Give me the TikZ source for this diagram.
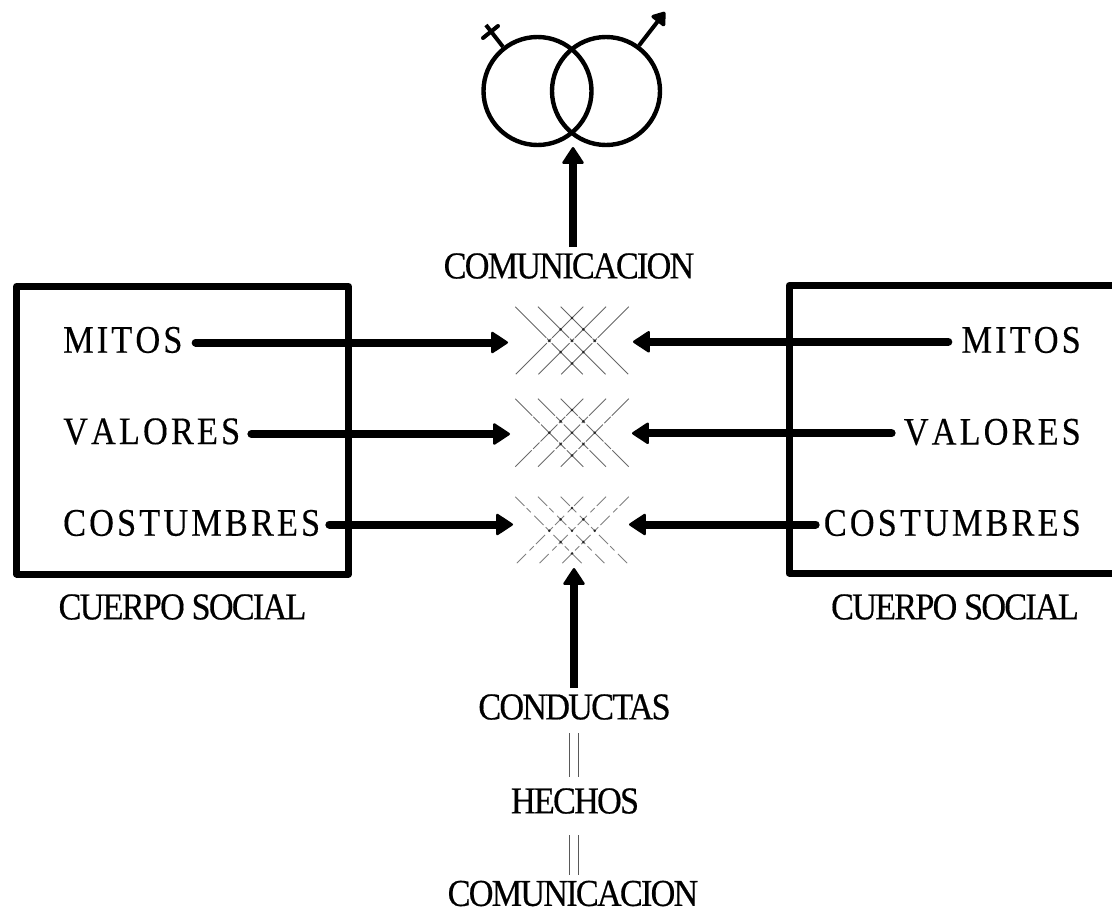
\documentclass[tikz,border=0pt]{standalone}
\usepackage{fontspec}
\setmainfont{Liberation Serif}
\newfontfamily\widefont[FakeStretch=0.88,LetterSpace=8,Kerning=Off,FakeBold=0.3]{Liberation Serif}
\newfontfamily\tightfont[FakeStretch=0.9,LetterSpace=-4.6,FakeBold=0.4]{Liberation Serif}
\usetikzlibrary{arrows.meta}
\tikzset{
  body/.style={draw=black,line width=7pt,line join=round,fill=none},
  wide/.style={inner sep=0pt,font=\widefont\fontsize{39}{39}\selectfont,text=black},
  tight/.style={inner sep=0pt,font=\tightfont\fontsize{38}{38}\selectfont,text=black},
  flow/.style={line width=8pt,-{Triangle[length=18pt,width=23pt,round,line width=2.5pt]},line cap=round},
  ring/.style={draw=black,line width=4.4pt,fill=none,circle,minimum size=108pt,inner sep=0pt},
  stem/.style={line width=4pt,draw=black},
  threadA/.style={line width=.9pt,draw=black!60,dash pattern=on 44pt off 1pt on 5pt off 1.5pt},
  threadB/.style={line width=.9pt,draw=black!58,dash pattern=on 24pt off 1.5pt on 9pt off 2pt},
  threadC/.style={line width=.9pt,draw=black!50,dash pattern=on 13pt off 3pt on 6pt off 5pt},
  knot/.style={fill=black!85},
  hub/.style={inner sep=0pt,minimum width=114pt,minimum height=68pt},
  eq/.style={line width=.9pt,draw=black!65},
}
\begin{document}
\begin{tikzpicture}[x=1pt,y=-1pt]
\useasboundingbox (0,0) rectangle (1112,910);
% boxes
\draw[body] (16.7,286.5) rectangle (348.5,574);
\draw[body] (1125,285.5) -- (789,285.5) -- (789,573) -- (1125,573);
% symbol
\node[ring] (fem) at (537.5,91) {};
\node[ring] (mas) at (606,91) {};
\coordinate (femtip) at (486,25);
\coordinate (mastip) at (665,12);
\draw[stem] (fem.128) -- (femtip);
\coordinate (barA) at (483,38);
\coordinate (barB) at (498,26);
\draw[stem,line cap=round] (barA) -- (barB);
\draw[stem,-{Triangle[length=14pt,width=19pt,round,line width=3.5pt]}] (mas.54) -- (mastip);
% hubs
\node[hub] (hubA) at (572,340.7) {};
\node[hub] (hubB) at (572,432.7) {};
\node[hub] (hubC) at (572,530.7) {};
\foreach \h/\st in {hubA/threadA,hubB/threadB,hubC/threadC}{
  \foreach \d in {-22.7,0,22.7}{
    \draw[\st] ([shift={(\d-34,-34)}]\h.center) -- ([shift={(\d+34,34)}]\h.center);
    \draw[\st] ([shift={(\d+34,-34)}]\h.center) -- ([shift={(\d-34,34)}]\h.center);
  }
  \foreach \p/\q in {-22.7/0,0/0,22.7/0,-11.35/-11.35,11.35/-11.35,-11.35/11.35,11.35/11.35,0/-22.7,0/22.7}{
    \fill[knot] ([shift={(\p,\q)}]\h.center) circle (1.4pt);
  }
}
% labels
\node[wide,anchor=west] (ml) at (63,340) {MITOS};
\node[wide,anchor=west] (vl) at (63,431.5) {VALORES};
\node[wide,anchor=west] (cl) at (63,523) {COSTUMBRES};
\node[wide,anchor=east] (mr) at (1081,340) {MITOS};
\node[wide,anchor=east] (vr) at (1081,432) {VALORES};
\node[wide,anchor=east] (cr) at (1081,523) {COSTUMBRES};
\node[tight] (csl) at (182.5,607) {CUERPO SOCIAL};
\node[tight] (csr) at (955,607) {CUERPO SOCIAL};
\node[tight] (top) at (569,266) {COMUNICACION};
\node[tight] (cond) at (574.5,707) {CONDUCTAS};
\node[tight] (hech) at (575,801) {HECHOS};
\node[tight] (bot) at (573,893.5) {COMUNICACION};
% flow ends
\coordinate (tipAL) at (508,342.5);
\coordinate (tipBL) at (510,434);
\coordinate (tipCL) at (513,524.5);
\coordinate (tipAR) at (633,341.8);
\coordinate (tipBR) at (632,433.3);
\coordinate (tipCR) at (629,524.5);
\coordinate (tipT) at (573,147);
\coordinate (tipD) at (574,568);
% flows
\draw[flow] ([xshift=13pt]ml.east |- tipAL) -- (tipAL);
\draw[flow] ([xshift=11pt]vl.east |- tipBL) -- (tipBL);
\draw[flow] ([xshift=9pt]cl.east |- tipCL) -- (tipCL);
\draw[flow] ([xshift=-13pt]mr.west |- tipAR) -- (tipAR);
\draw[flow] ([xshift=-12pt]vr.west |- tipBR) -- (tipBR);
\draw[flow] ([xshift=-8pt]cr.west |- tipCR) -- (tipCR);
\draw[flow,line cap=butt] (tipT |- top.north) ++(0,-6) -- (tipT);
\draw[flow,line cap=butt] (tipD |- cond.north) ++(0,-6) -- (tipD);
% double lines
\draw[eq] (569.5,733) -- (569.5,777);
\draw[eq] (578,733) -- (578,777);
\draw[eq] (569.5,835) -- (569.5,875);
\draw[eq] (578,835) -- (578,875);
\end{tikzpicture}
\end{document}
